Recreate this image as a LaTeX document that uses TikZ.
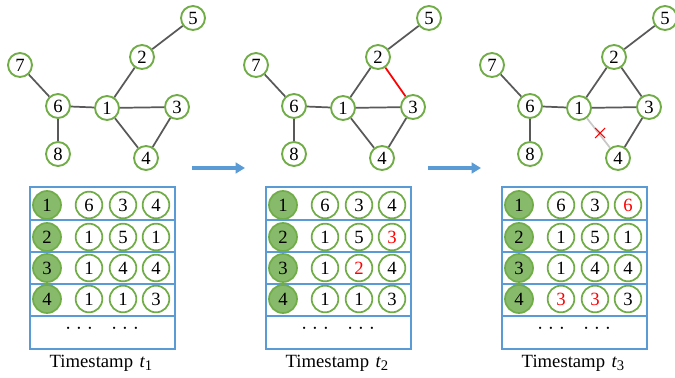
\documentclass[tikz,border=0pt]{standalone}
\usepackage{fontspec}
\setmainfont{Liberation Serif}
\usetikzlibrary{arrows.meta}
\definecolor{gr}{HTML}{70AD47}
\definecolor{gfill}{HTML}{88BA6C}
\definecolor{bl}{HTML}{5B9BD5}
\definecolor{eg}{HTML}{595959}
\definecolor{lg}{HTML}{C8C8C8}
\definecolor{rd}{HTML}{FF0000}
\begin{document}
\begin{tikzpicture}[x=0.75pt,y=-0.75pt,
 gnode/.style={circle,draw=gr,line width=1.4pt,fill=white,minimum size=18pt,inner sep=0pt,font=\fontsize{14}{14}\selectfont},
 tnode/.style={circle,draw=gr,line width=1.3pt,fill=white,minimum size=20pt,inner sep=0pt,font=\fontsize{14}{14}\selectfont},
 fnode/.style={tnode,fill=gfill,minimum size=21pt},
 edge/.style={draw=eg,line width=1.3pt},
 tbl/.style={draw=bl,line width=1.5pt},
 flow/.style={draw=bl,line width=2.3pt,-{Triangle[length=7pt,width=8pt]}},
 lbl/.style={font=\fontsize{14}{16}\selectfont},
 dots/.style={font=\fontsize{14}{14}\selectfont},
]
\useasboundingbox (0,0) rectangle (675,378);

% graphs
\foreach \p/\dx in {a/0,b/236,c/472}{
 \begin{scope}[shift={(\dx,0)}]
  \node[gnode] (\p1) at (107,108) {1};
  \node[gnode] (\p2) at (142,57) {2};
  \node[gnode] (\p3) at (177,107) {3};
  \node[gnode] (\p4) at (146,158) {4};
  \node[gnode] (\p5) at (193,18) {5};
  \node[gnode] (\p6) at (58,106) {6};
  \node[gnode] (\p7) at (20,65) {7};
  \node[gnode] (\p8) at (58,154) {8};
 \end{scope}
 \draw[edge] (\p7) -- (\p6);
 \draw[edge] (\p6) -- (\p8);
 \draw[edge] (\p6) -- (\p1);
 \draw[edge] (\p1) -- (\p2);
 \draw[edge] (\p2) -- (\p5);
 \draw[edge] (\p1) -- (\p3);
 \draw[edge] (\p3) -- (\p4);
}
\draw[edge] (a1) -- (a4);
\draw[edge] (b1) -- (b4);
\draw[edge,draw=rd] (b2) -- (b3);
\draw[edge] (c2) -- (c3);
\draw[edge,draw=lg] (c1) -- (c4);
\coordinate (xm) at (600,133);
\draw[rd,line width=0.8pt] ([shift={(-5,-5)}]xm) -- ([shift={(5,5)}]xm)
  ([shift={(-5,5)}]xm) -- ([shift={(5,-5)}]xm);

% flow arrows
\coordinate (f1s) at (192,168); \coordinate (f1e) at (245,168);
\coordinate (f2s) at (428,168); \coordinate (f2e) at (481,168);
\draw[flow] (f1s) -- (f1e);
\draw[flow] (f2s) -- (f2e);

% tables
\foreach \p/\dx/\s in {a/0/1,b/236/2,c/472/3}{
 \begin{scope}[shift={(\dx,0)}]
  \draw[tbl] (30,187) rectangle (175,349);
  \foreach \yy in {220,252,284,316}{\draw[tbl] (30,\yy) -- (175,\yy);}
  \node[fnode] (\p h1) at (47,205) {1};
  \node[fnode] (\p h2) at (47,237) {2};
  \node[fnode] (\p h3) at (47,268) {3};
  \node[fnode] (\p h4) at (47,299) {4};
  \node[dots] (\p d1) at (79,331) {·\hspace{3.5pt}·\hspace{3.5pt}·};
  \node[dots] (\p d2) at (125,331) {·\hspace{3.5pt}·\hspace{3.5pt}·};
  \node[lbl] (\p lab) at (101,363) {Timestamp\hspace{5pt}{\itshape t}\raisebox{-2.5pt}{\fontsize{11}{11}\selectfont\s}};
 \end{scope}
}
% table 1 values
\node[tnode] (ar1c1) at (89,205) {6}; \node[tnode] (ar1c2) at (123,205) {3}; \node[tnode] (ar1c3) at (156,205) {4};
\node[tnode] (ar2c1) at (89,237) {1}; \node[tnode] (ar2c2) at (123,237) {5}; \node[tnode] (ar2c3) at (156,237) {1};
\node[tnode] (ar3c1) at (89,268) {1}; \node[tnode] (ar3c2) at (123,268) {4}; \node[tnode] (ar3c3) at (156,268) {4};
\node[tnode] (ar4c1) at (89,299) {1}; \node[tnode] (ar4c2) at (123,299) {1}; \node[tnode] (ar4c3) at (156,299) {3};
% table 2 values
\begin{scope}[shift={(236,0)}]
\node[tnode] (br1c1) at (89,205) {6}; \node[tnode] (br1c2) at (123,205) {3}; \node[tnode] (br1c3) at (156,205) {4};
\node[tnode] (br2c1) at (89,237) {1}; \node[tnode] (br2c2) at (123,237) {5}; \node[tnode,text=rd] (br2c3) at (156,237) {3};
\node[tnode] (br3c1) at (89,268) {1}; \node[tnode,text=rd] (br3c2) at (123,268) {2}; \node[tnode] (br3c3) at (156,268) {4};
\node[tnode] (br4c1) at (89,299) {1}; \node[tnode] (br4c2) at (123,299) {1}; \node[tnode] (br4c3) at (156,299) {3};
\end{scope}
% table 3 values
\begin{scope}[shift={(472,0)}]
\node[tnode] (cr1c1) at (89,205) {6}; \node[tnode] (cr1c2) at (123,205) {3}; \node[tnode,text=rd] (cr1c3) at (156,205) {6};
\node[tnode] (cr2c1) at (89,237) {1}; \node[tnode] (cr2c2) at (123,237) {5}; \node[tnode] (cr2c3) at (156,237) {1};
\node[tnode] (cr3c1) at (89,268) {1}; \node[tnode] (cr3c2) at (123,268) {4}; \node[tnode] (cr3c3) at (156,268) {4};
\node[tnode,text=rd] (cr4c1) at (89,299) {3}; \node[tnode,text=rd] (cr4c2) at (123,299) {3}; \node[tnode] (cr4c3) at (156,299) {3};
\end{scope}
\end{tikzpicture}
\end{document}
